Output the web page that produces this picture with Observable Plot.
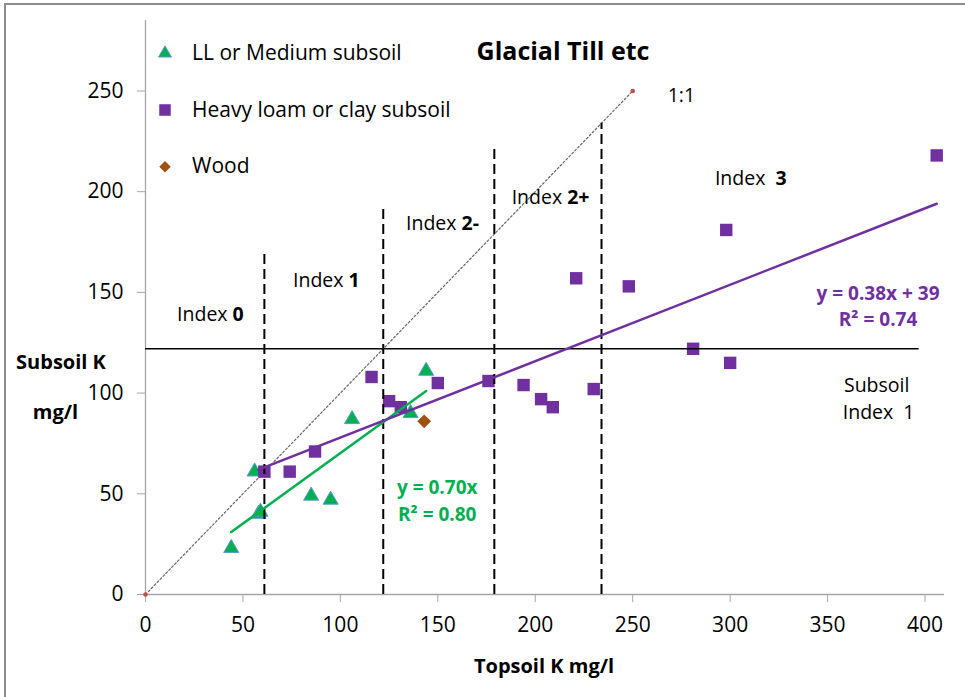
<!DOCTYPE html>
<html><head><meta charset="utf-8">
<script src="https://cdn.jsdelivr.net/npm/d3@7"></script>
<script src="https://cdn.jsdelivr.net/npm/@observablehq/plot@0.6"></script>
<style>
body{margin:0;background:#fff;}
#wrap{position:relative;width:965px;height:697px;overflow:hidden;background:#fff;font-family:"Open Sans",sans-serif;}
#frame{position:absolute;left:4px;top:3px;width:1000px;height:1000px;border-left:2px solid #8c8c8c;border-top:2px solid #8c8c8c;}
#chart{position:absolute;left:0;top:0;}
</style></head><body>
<div id="wrap"><div id="frame"></div><div id="chart"></div></div>
<script>
// ---- data ----
const titleText = "Glacial Till etc";
const xLabel = "Topsoil K mg/l";
const yLabelLines = ["Subsoil K", "mg/l"];
const xTicks = [0, 50, 100, 150, 200, 250, 300, 350, 400];
const yTicks = [0, 50, 100, 150, 200, 250];

const seriesNames = ["LL or Medium subsoil", "Heavy loam or clay subsoil", "Wood"];
const llTopsoil = [44, 56, 58, 59, 85, 95, 106, 136, 144];
const llSubsoil = [23, 61, 40, 41, 49, 47, 87, 90, 111];
const heavyTopsoil = [61, 74, 87, 116, 125, 131, 150, 176, 194, 203, 209, 230, 221, 248, 281, 298, 300, 406];
const heavySubsoil = [61, 61, 71, 108, 96, 93, 105, 106, 104, 97, 93, 102, 157, 153, 122, 181, 115, 218];
const woodTopsoil = [143];
const woodSubsoil = [86];

// trendlines (end points) and their equations
const llTrendX = [44, 144];
const llTrendY = [31, 101];
const heavyTrendX = [58, 406];
const heavyTrendY = [62, 194];
const llEquation = ["y = 0.70x", "R² = 0.80"];
const heavyEquation = ["y = 0.38x + 39", "R² = 0.74"];

// 1:1 reference line
const oneToOne = [0, 250];
// topsoil index boundaries (dashed) and their heights
const indexBoundX = [61, 122, 179, 234];
const indexBoundTop = [171, 193, 223, 234];
const indexNames = ["0", "1", "2-", "2+", "3"];
const indexSpaces = [1, 1, 1, 1, 2];
// subsoil index 1 threshold
const subsoilThreshold = 122;
const thresholdExtent = [0, 397];

// ---- annotation placement (data coordinates) ----
const indexLabelX = [42.1, 101.6, 159.6, 213.8, 318.1];
const indexLabelY = [139, 156, 184.2, 197.1, 206.4];
const eqLabelX = [149.7, 375.9];
const eqLabelY = [[52.7, 39.7], [149.4, 136.1]];
const noteText = ["1:1", "Subsoil", "Index\u00a0\u00a01"];
const noteX = [275, 375.2, 376.2];
const noteY = [247.5, 103.5, 90];

const cGreen = "#00B050", cBlueEdge = "#5B9BD5", cPurple = "#7030A0", cBrown = "#A0500F";

const ll = llTopsoil.map((x, i) => ({x, y: llSubsoil[i]}));
const heavy = heavyTopsoil.map((x, i) => ({x, y: heavySubsoil[i]}));
const wood = woodTopsoil.map((x, i) => ({x, y: woodSubsoil[i]}));
const llTrend = llTrendX.map((x, i) => ({x, y: llTrendY[i]}));
const heavyTrend = heavyTrendX.map((x, i) => ({x, y: heavyTrendY[i]}));
const diag = oneToOne.map(v => ({x: v, y: v}));
const bounds = indexBoundX.map((x, i) => ({x, top: indexBoundTop[i]}));
const idx = indexNames.map((n, i) => ({n: "\u00a0".repeat(indexSpaces[i]) + n, x: indexLabelX[i], y: indexLabelY[i]}));
const eqs = [
  {t: llEquation[0], x: eqLabelX[0], y: eqLabelY[0][0], c: cGreen},
  {t: llEquation[1], x: eqLabelX[0], y: eqLabelY[0][1], c: cGreen},
  {t: heavyEquation[0], x: eqLabelX[1], y: eqLabelY[1][0], c: cPurple},
  {t: heavyEquation[1], x: eqLabelX[1], y: eqLabelY[1][1], c: cPurple}
];
const notes = noteText.map((t, i) => ({t, x: noteX[i], y: noteY[i]}));

const FONT = "'Open Sans', sans-serif";
const chart = Plot.plot({
  width: 965, height: 697,
  marginLeft: 145, marginRight: 21, marginTop: 20, marginBottom: 103,
  x: {domain: [0, 410], axis: null},
  y: {domain: [0, 285], axis: null},
  style: {fontFamily: FONT, fontSize: "21px", color: "#000", background: "transparent", overflow: "visible"},
  marks: [
    Plot.ruleY([0], {stroke: "#a6a6a6", strokeWidth: 1.3}),
    Plot.ruleX([0], {stroke: "#a6a6a6", strokeWidth: 1.3}),
    Plot.axisX({ticks: xTicks, tickSize: 8, tickPadding: 15, stroke: "#a6a6a6", fill: "#000", label: null, tickFormat: d => String(d)}),
    Plot.axisY({ticks: yTicks, tickSize: 8, tickPadding: 14, stroke: "#a6a6a6", fill: "#000", label: null, tickFormat: d => String(d)}),
    Plot.line(diag, {x: "x", y: "y", stroke: "#666", strokeWidth: 1.2, strokeDasharray: "2,2.2"}),
    Plot.dot(diag, {x: "x", y: "y", r: 2.3, fill: "#C0504D", stroke: "none"}),
    Plot.dot(ll, {x: "x", y: "y", symbol: "triangle", r: 5.6, fill: cGreen, stroke: cBlueEdge, strokeWidth: 1}),
    Plot.dot(heavy, {x: "x", y: "y", symbol: "square", r: 7, fill: cPurple, stroke: "none"}),
    Plot.dot(wood, {x: "x", y: "y", symbol: "diamond2", r: 6.2, fill: cBrown, stroke: "none"}),
    Plot.ruleY([subsoilThreshold], {y: d => d, x1: thresholdExtent[0], x2: thresholdExtent[1], stroke: "#000", strokeWidth: 1.5}),
    Plot.ruleX(bounds, {x: "x", y1: 0, y2: "top", stroke: "#000", strokeWidth: 2, strokeDasharray: "10,5"}),
    Plot.line(llTrend, {x: "x", y: "y", stroke: cGreen, strokeWidth: 2.5}),
    Plot.line(heavyTrend, {x: "x", y: "y", stroke: cPurple, strokeWidth: 2.5}),
    Plot.text(idx, {x: "x", y: "y", text: () => "Index", textAnchor: "end", fontSize: 19.5, fill: "#000"}),
    Plot.text(idx, {x: "x", y: "y", text: "n", textAnchor: "start", fontSize: 19.5, fontWeight: "bold", fill: "#000"}),
    Plot.text(eqs, {x: "x", y: "y", text: "t", fill: "c", fontSize: 19, fontWeight: "bold", textAnchor: "middle"}),
    Plot.text(notes, {x: "x", y: "y", text: "t", fontSize: 19.5, fill: "#000", textAnchor: "middle"})
  ]
});
document.getElementById("chart").appendChild(chart);

const svg = d3.select(chart);
// overlay: title, axis titles, legend
const g = svg.append("g").attr("font-family", FONT).attr("fill", "#000").attr("text-anchor", "start");
g.append("text").attr("x", 563).attr("y", 60).attr("text-anchor", "middle")
  .attr("font-weight", "bold").attr("font-size", 25).text(titleText);
g.append("text").attr("x", 544).attr("y", 673).attr("text-anchor", "middle")
  .attr("font-weight", "bold").attr("font-size", 20).text(xLabel);
g.append("text").attr("x", 61).attr("y", 369).attr("text-anchor", "middle")
  .attr("font-weight", "bold").attr("font-size", 20).text(yLabelLines[0]);
g.append("text").attr("x", 55.5).attr("y", 419).attr("text-anchor", "middle")
  .attr("font-weight", "bold").attr("font-size", 20).text(yLabelLines[1]);

const legendItems = [
  {type: d3.symbolTriangle, r: 4.8, fill: cGreen, stroke: cBlueEdge},
  {type: d3.symbolSquare, r: 6.5, fill: cPurple, stroke: "none"},
  {type: d3.symbolDiamond2, r: 5.2, fill: cBrown, stroke: "none"}
];
legendItems.forEach((it, i) => {
  const cy = 53.3 + i * 56.7;
  g.append("path").attr("transform", `translate(165,${cy})`)
    .attr("d", d3.symbol().type(it.type).size(Math.PI * it.r * it.r)())
    .attr("fill", it.fill).attr("stroke", it.stroke).attr("stroke-width", 1);
  g.append("text").attr("x", 192).attr("y", cy + 6.7).attr("text-anchor", "start")
    .attr("font-size", 21).text(seriesNames[i]);
});
</script>
</body></html>
